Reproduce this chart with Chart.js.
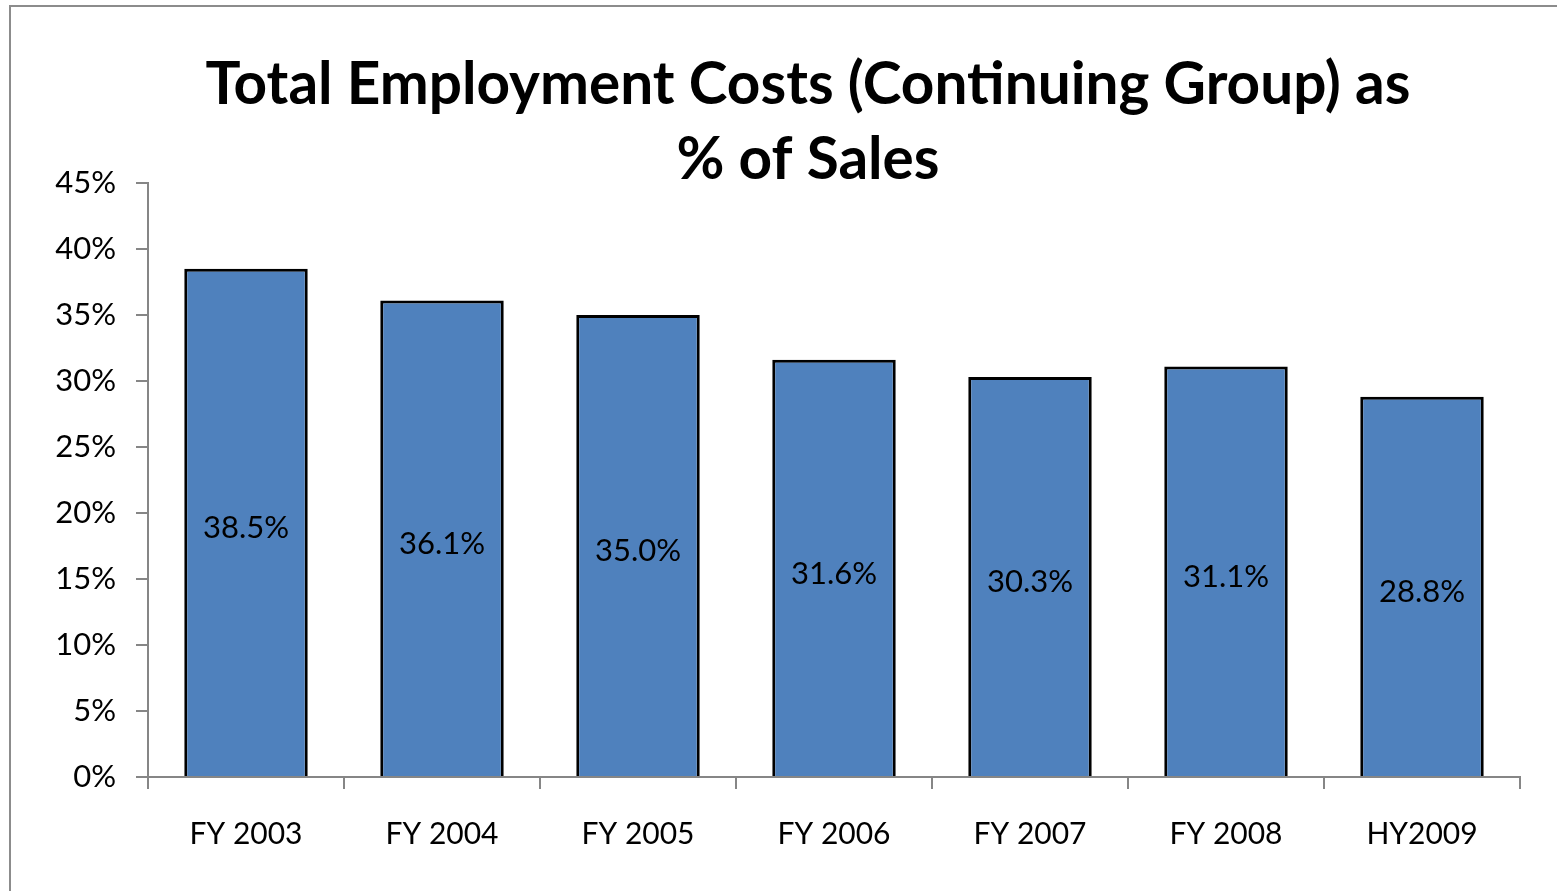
<!DOCTYPE html>
<html>
<head>
<meta charset='utf-8' />
<title>Total Employment Costs</title>
<script src="https://cdn.jsdelivr.net/npm/chart.js"></script>
<style>
body { margin:0; padding:0; background:#ffffff; overflow:hidden; }
#wrap {
  position: absolute;
  left: 9px;
  top: 5px;
  width: 1570px;
  height: 900px;
  border: 2px solid #8c8c8c;
  background: #ffffff;
}
#chartBox {
  width: 1548px;
  height: 884px;
}
</style>
</head>
<body>
<div id="wrap">
  <div id="chartBox"><canvas id="costChart"></canvas></div>
</div>

<script>

// データ
const categories = ["FY 2003", "FY 2004", "FY 2005", "FY 2006", "FY 2007", "FY 2008", "HY2009"];
const costPct = [38.5, 36.1, 35.0, 31.6, 30.3, 31.1, 28.8];
const titleLines = ["Total Employment Costs (Continuing Group) as", "% of Sales"];

const FONT = "Lato, 'Open Sans', sans-serif";
const AXIS_GREY = '#868686';

// 棒の中央に値を表示
const barValueLabels = {
  id: 'barValueLabels',
  afterDatasetsDraw(chart) {
    const ctx = chart.ctx;
    const meta = chart.getDatasetMeta(0);
    ctx.save();
    ctx.font = "31px " + FONT;
    ctx.fillStyle = '#000000';
    ctx.textAlign = 'center';
    ctx.textBaseline = 'middle';
    meta.data.forEach((bar, i) => {
      const v = chart.data.datasets[0].data[i];
      ctx.fillText(v.toFixed(1) + '%', bar.x, (bar.y + bar.base) / 2 + 6);
    });
    ctx.restore();
  }
};

// タイトルを少し右へ寄せる
const shiftTitle = {
  id: 'shiftTitle',
  afterLayout(chart) {
    const tb = chart.titleBlock;
    if (tb) {
      tb.left += 85;
      tb.width -= 85;
    }
  }
};

const ctx = document.getElementById('costChart');

const costChart = new Chart(ctx, {
  type: 'bar',
  data: {
    labels: categories,
    datasets: [{
      data: costPct,
      backgroundColor: '#4F81BD',
      borderColor: '#000000',
      borderWidth: 3,
      categoryPercentage: 1.0,
      barPercentage: 0.63
    }]
  },
  options: {
    responsive: true,
    maintainAspectRatio: false,
    animation: false,
    layout: {
      padding: { left: 0, right: 39, top: 0, bottom: 0 }
    },
    plugins: {
      legend: { display: false },
      tooltip: { enabled: false },
      title: {
        display: true,
        text: titleLines,
        color: '#000000',
        font: { family: FONT, size: 58.5, weight: 'bold', lineHeight: 1.29 },
        padding: { top: 40, bottom: -15 }
      }
    },
    scales: {
      x: {
        grid: {
          offset: true,
          drawOnChartArea: false,
          drawTicks: true,
          tickLength: 12,
          color: AXIS_GREY,
          lineWidth: 2
        },
        border: { display: true, color: AXIS_GREY, width: 2 },
        ticks: {
          color: '#000000',
          padding: 27,
          font: { family: FONT, size: 30 }
        },
        afterFit: (scale) => { scale.height = 114; }
      },
      y: {
        min: 0,
        max: 45,
        grid: {
          drawOnChartArea: false,
          drawTicks: true,
          tickLength: 12,
          color: AXIS_GREY,
          lineWidth: 2
        },
        border: { display: true, color: AXIS_GREY, width: 2 },
        ticks: {
          stepSize: 5,
          color: '#000000',
          padding: 20,
          font: { family: FONT, size: 31 },
          callback: (value) => value + '%'
        },
        afterFit: (scale) => { scale.width = 137; }
      }
    }
  },
  plugins: [barValueLabels, shiftTitle]
});

</script>
</body>
</html>
